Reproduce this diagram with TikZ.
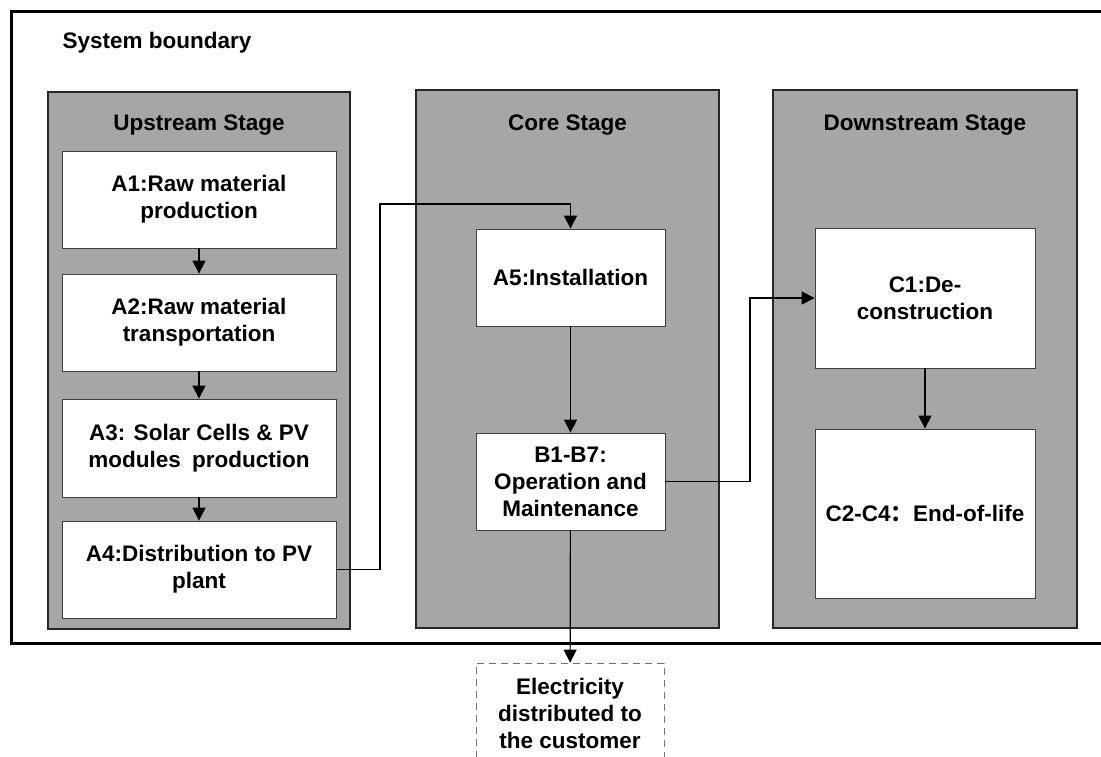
\documentclass[tikz,border=0pt]{standalone}
\usepackage{fontspec}
\setmainfont{Liberation Sans}
\newfontfamily\cjk{Noto Sans CJK SC}
\usetikzlibrary{arrows.meta}
\definecolor{stagegray}{HTML}{A6A6A6}

\tikzset{
	stage/.style={draw=black!85, line width=1.2pt, fill=stagegray, inner sep=0pt},
	stagetitle/.style={font=\bfseries\fontsize{22.5}{27}\selectfont},
	unit/.style={draw=black!75, line width=0.8pt, fill=white, inner sep=0pt, align=center, font=\bfseries\fontsize{22.5}{27}\selectfont},
	flow/.style={line width=1.2pt, -{Triangle[length=13pt,width=13pt]}},
}

\begin{document}
\begin{tikzpicture}[x=1pt, y=-1pt]
			%%%%% START %%%%%
			\useasboundingbox (0, 0) rectangle (1101, 756);
			\clip (0, 0) rectangle (1101, 756);
			
			\draw[line width=3pt] (11, 11) rectangle (1120, 643);
			\node[anchor=west, stagetitle] (sysb) at (59, 43) {System boundary};
			
			% stages
			\node[stage, minimum width=302, minimum height=537] (up) at (199, 360.5) {};
			\node[stage, minimum width=303, minimum height=538] (core) at (567.5, 359) {};
			\node[stage, minimum width=304, minimum height=538] (down) at (925, 359) {};
			
			\node[stagetitle] (uptitle) at (199, 125) {Upstream Stage};
			\node[stagetitle] (coretitle) at (567.5, 125) {Core Stage};
			\node[stagetitle] (downtitle) at (925, 125) {Downstream Stage};
			
			% upstream units
			\node[unit, minimum width=274, minimum height=97] (A1) at (199, 199.5) {A1:Raw material\\production};
			\node[unit, minimum width=274, minimum height=97] (A2) at (199, 322.5) {A2:Raw material\\transportation};
			\node[unit, minimum width=274, minimum height=98] (A3) at (199, 448) {A3: Solar Cells \& PV\\modules\hspace{0.5em}production};
			\node[unit, minimum width=274, minimum height=97] (A4) at (199, 569.5) {A4:Distribution to PV\\plant};
			
			% core units
			\node[unit, minimum width=189, minimum height=97] (A5) at (570.5, 277.5) {A5:Installation};
			\node[unit, minimum width=189, minimum height=97] (B1) at (570.5, 481.5) {B1-B7:\\Operation and\\Maintenance};
			
			% downstream units
			\node[unit, minimum width=220, minimum height=140] (C1) at (925, 298) {C1:De-\\construction};
			\node[unit, minimum width=220, minimum height=169] (C2) at (925, 513.5) {C2-C4{\cjk ：}End-of-life};
			
			\node[unit, draw=black!55, dash pattern=on 7pt off 5pt, minimum width=188, minimum height=100] (elec) at (570, 713) {Electricity\\distributed to\\the customer};
			
			% flows
			\coordinate (bendA) at (380, 204);
			\coordinate (bendB) at (750, 298);
			
			\draw[flow] (A1) -- (A2);
			\draw[flow] (A2) -- (A3);
			\draw[flow] (A3) -- (A4);
			\draw[flow] (A4.east) -| (bendA) -| (A5.north);
			\draw[flow] (A5) -- (B1);
			\draw[flow] (B1.east) -| (bendB) -- (C1.west);
			\draw[flow] (C1) -- (C2);
			\draw[flow] (B1) -- (elec);
			
			%%%%% END %%%%%
\end{tikzpicture}
\end{document}
